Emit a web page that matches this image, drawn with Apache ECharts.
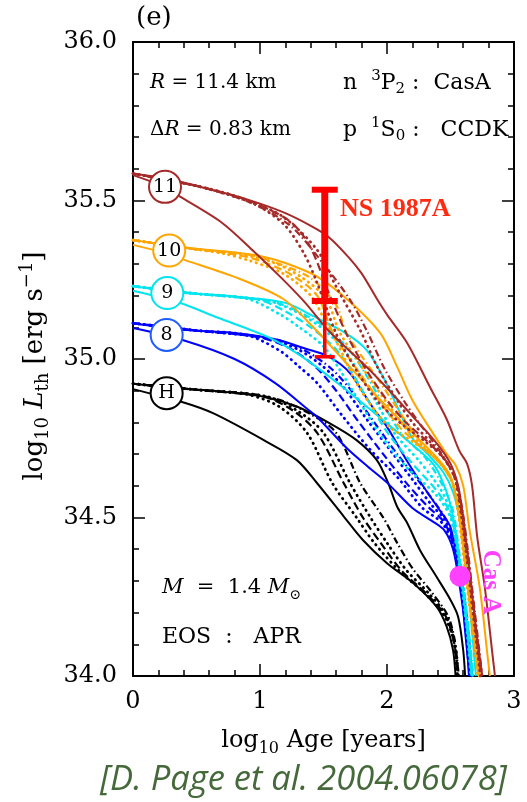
<!DOCTYPE html>
<html>
<head>
<meta charset="utf-8">
<script src="https://cdn.jsdelivr.net/npm/echarts@6/dist/echarts.min.js"></script>
<style>
  html, body { margin: 0; padding: 0; background: #fff; }
  #chart { width: 527px; height: 802px; }
</style>
</head>
<body>
<div id="chart"></div>
<script>
// cooling curves: [log10 age, log10 L]
// H (no superfluid gap)
const hUpper = [[0,34.922],[0.38,34.907],[0.7,34.897],[1.03,34.881],[1.29,34.85],[1.55,34.797],[1.76,34.744],[1.92,34.681],[2.01,34.608],[2.08,34.534],[2.16,34.482],[2.26,34.397],[2.39,34.313],[2.5,34.24],[2.56,34.187],[2.6,34.082],[2.615,34.0]];
const hLower = [[0,34.905],[0.38,34.865],[0.63,34.829],[1.03,34.744],[1.29,34.681],[1.45,34.608],[1.66,34.503],[1.81,34.429],[2.0,34.356],[2.21,34.292],[2.39,34.219],[2.47,34.156],[2.52,34.082],[2.54,34.0]];
const hA = [[0,34.922],[0.5,34.903],[0.9,34.888],[1.15,34.85],[1.37,34.767],[1.57,34.608],[1.76,34.5],[1.9,34.42],[2.1,34.33],[2.3,34.26],[2.45,34.19],[2.52,34.12],[2.54,34.06],[2.55,34.0]];
const hB = [[0,34.922],[0.5,34.903],[1.0,34.885],[1.25,34.84],[1.45,34.767],[1.66,34.608],[1.81,34.5],[1.95,34.42],[2.12,34.33],[2.31,34.26],[2.46,34.19],[2.52,34.12],[2.545,34.06],[2.555,34.0]];
const hC = [[0,34.922],[0.5,34.903],[1.05,34.882],[1.3,34.835],[1.5,34.767],[1.71,34.608],[1.87,34.5],[2.0,34.42],[2.15,34.335],[2.33,34.26],[2.47,34.19],[2.525,34.12],[2.55,34.06],[2.56,34.0]];
const hD = [[0,34.922],[0.5,34.903],[1.1,34.877],[1.38,34.83],[1.6,34.767],[1.79,34.608],[1.97,34.5],[2.08,34.42],[2.2,34.34],[2.35,34.265],[2.48,34.19],[2.53,34.12],[2.55,34.06],[2.565,34.0]];

// 8
const bUpper = [[0,35.113],[0.39,35.092],[0.8,35.082],[1.12,35.062],[1.38,35.03],[1.51,35.013],[1.63,34.985],[1.72,34.95],[1.81,34.895],[1.9,34.84],[2.0,34.786],[2.155,34.68],[2.3,34.59],[2.42,34.52],[2.5,34.47],[2.55,34.37],[2.59,34.25],[2.62,34.12],[2.65,34.0]];
const bLower = [[0,35.098],[0.39,35.06],[0.8,35.0],[1.12,34.924],[1.38,34.84],[1.45,34.817],[1.68,34.72],[1.85,34.66],[2.0,34.61],[2.2,34.53],[2.35,34.49],[2.45,34.46],[2.52,34.4],[2.57,34.29],[2.62,34.14],[2.645,34.0]];
const bA = [[0,35.113],[0.5,35.09],[0.9,35.075],[1.16,35.025],[1.31,34.975],[1.45,34.924],[1.65,34.82],[1.87,34.713],[2.08,34.628],[2.28,34.53],[2.44,34.48],[2.53,34.4],[2.58,34.29],[2.625,34.14],[2.655,34.0]];
const bB = [[0,35.113],[0.5,35.09],[1.0,35.068],[1.25,35.03],[1.45,34.97],[1.6,34.9],[1.78,34.8],[1.97,34.7],[2.15,34.61],[2.32,34.535],[2.45,34.485],[2.535,34.4],[2.585,34.29],[2.63,34.14],[2.66,34.0]];
const bC = [[0,35.113],[0.5,35.09],[1.05,35.066],[1.3,35.03],[1.5,34.975],[1.66,34.91],[1.84,34.81],[2.03,34.71],[2.2,34.62],[2.35,34.54],[2.46,34.49],[2.54,34.4],[2.59,34.29],[2.635,34.14],[2.665,34.0]];
const bD = [[0,35.113],[0.5,35.09],[1.1,35.064],[1.36,35.025],[1.56,34.97],[1.72,34.9],[1.9,34.8],[2.08,34.7],[2.24,34.62],[2.38,34.545],[2.47,34.49],[2.545,34.4],[2.595,34.29],[2.64,34.14],[2.67,34.0]];

// 9
const cUpper = [[0,35.23],[0.36,35.21],[0.8,35.197],[1.2,35.177],[1.42,35.135],[1.68,35.08],[1.84,35.028],[1.97,34.943],[2.08,34.85],[2.2,34.75],[2.32,34.7],[2.44,34.645],[2.52,34.58],[2.57,34.5],[2.61,34.4],[2.64,34.28],[2.67,34.14],[2.7,34.0]];
const cLower = [[0,35.215],[0.36,35.178],[0.67,35.13],[1.06,35.07],[1.31,35.013],[1.63,34.918],[2.02,34.79],[2.34,34.68],[2.42,34.63],[2.5,34.54],[2.55,34.43],[2.59,34.3],[2.63,34.15],[2.665,34.0]];
const cA = [[0,35.23],[0.5,35.206],[0.9,35.19],[1.16,35.14],[1.31,35.1],[1.5,35.04],[1.63,34.965],[1.76,34.88],[1.95,34.76],[2.15,34.66],[2.39,34.57],[2.5,34.5],[2.55,34.4],[2.59,34.28],[2.63,34.14],[2.66,34.0]];
const cB = [[0,35.23],[0.5,35.206],[1.0,35.186],[1.2,35.15],[1.4,35.1],[1.6,35.03],[1.72,34.96],[1.85,34.87],[2.0,34.77],[2.2,34.67],[2.4,34.58],[2.5,34.51],[2.555,34.4],[2.595,34.28],[2.635,34.14],[2.67,34.0]];
const cC = [[0,35.23],[0.5,35.206],[1.05,35.185],[1.28,35.15],[1.48,35.1],[1.66,35.03],[1.79,34.95],[1.92,34.86],[2.07,34.76],[2.25,34.68],[2.42,34.59],[2.51,34.51],[2.56,34.4],[2.6,34.28],[2.64,34.14],[2.675,34.0]];
const cD = [[0,35.23],[0.5,35.206],[1.1,35.18],[1.35,35.14],[1.55,35.09],[1.72,35.02],[1.85,34.94],[1.98,34.85],[2.12,34.76],[2.3,34.69],[2.44,34.6],[2.52,34.52],[2.565,34.4],[2.605,34.28],[2.645,34.14],[2.68,34.0]];

// 10
const oUpper = [[0,35.375],[0.41,35.352],[0.8,35.336],[1.0,35.325],[1.2,35.303],[1.45,35.26],[1.71,35.18],[1.95,35.08],[2.08,34.975],[2.2,34.87],[2.36,34.767],[2.47,34.7],[2.54,34.665],[2.6,34.6],[2.65,34.46],[2.73,34.28],[2.79,34.07],[2.81,34.0]];
const oLower = [[0,35.36],[0.2,35.34],[0.41,35.312],[0.8,35.259],[1.18,35.19],[1.42,35.1],[1.68,34.987],[1.95,34.87],[2.2,34.767],[2.39,34.69],[2.5,34.63],[2.55,34.55],[2.59,34.44],[2.63,34.3],[2.68,34.14],[2.72,34.0]];
const oA = [[0,35.375],[0.5,35.346],[0.72,35.332],[0.92,35.31],[1.18,35.27],[1.4,35.2],[1.5,35.13],[1.62,35.04],[1.76,34.924],[1.9,34.84],[2.02,34.785],[2.2,34.74],[2.4,34.68],[2.5,34.625],[2.55,34.54],[2.585,34.44],[2.625,34.3],[2.675,34.14],[2.715,34.0]];
const oB = [[0,35.375],[0.5,35.346],[0.8,35.33],[1.0,35.31],[1.25,35.265],[1.45,35.2],[1.575,35.082],[1.84,34.924],[2.1,34.785],[2.25,34.73],[2.41,34.675],[2.505,34.62],[2.555,34.54],[2.59,34.44],[2.63,34.3],[2.68,34.14],[2.72,34.0]];
const oC = [[0,35.375],[0.5,35.346],[0.85,35.33],[1.1,35.305],[1.32,35.26],[1.52,35.19],[1.63,35.082],[1.89,34.924],[2.14,34.785],[2.28,34.725],[2.42,34.67],[2.51,34.615],[2.56,34.54],[2.595,34.44],[2.635,34.3],[2.685,34.14],[2.725,34.0]];
const oD = [[0,35.375],[0.5,35.346],[0.9,35.33],[1.15,35.3],[1.4,35.255],[1.6,35.17],[1.68,35.082],[1.95,34.924],[2.18,34.785],[2.3,34.72],[2.43,34.665],[2.515,34.61],[2.565,34.54],[2.6,34.44],[2.64,34.3],[2.69,34.14],[2.73,34.0]];

// 11
const rUpper = [[0,35.585],[0.25,35.57],[0.5,35.546],[0.8,35.515],[1.0,35.49],[1.2,35.46],[1.4,35.42],[1.54,35.385],[1.7,35.32],[1.8,35.27],[1.92,35.19],[2.0,35.14],[2.16,35.05],[2.34,34.91],[2.47,34.81],[2.57,34.71],[2.63,34.67],[2.67,34.6],[2.71,34.44],[2.77,34.28],[2.83,34.07],[2.85,34.0]];
const rLower = [[0,35.58],[0.2,35.55],[0.4,35.505],[0.7,35.43],[0.95,35.34],[1.17,35.255],[1.35,35.18],[1.55,35.085],[1.84,34.975],[2.02,34.9],[2.2,34.82],[2.39,34.735],[2.5,34.67],[2.56,34.6],[2.6,34.5],[2.63,34.4],[2.67,34.26],[2.71,34.12],[2.75,34.0]];
const rA = [[0,35.585],[0.5,35.546],[0.8,35.515],[1.0,35.48],[1.2,35.42],[1.35,35.33],[1.45,35.24],[1.6,35.08],[1.75,34.97],[1.92,34.87],[2.1,34.8],[2.3,34.74],[2.44,34.69],[2.53,34.63],[2.58,34.52],[2.62,34.4],[2.66,34.26],[2.7,34.12],[2.735,34.0]];
const rB = [[0,35.585],[0.5,35.546],[0.8,35.515],[1.0,35.485],[1.25,35.43],[1.4,35.35],[1.55,35.2],[1.68,35.08],[1.83,34.97],[2.0,34.87],[2.15,34.8],[2.33,34.735],[2.45,34.685],[2.535,34.625],[2.585,34.52],[2.625,34.4],[2.665,34.26],[2.705,34.12],[2.74,34.0]];
const rC = [[0,35.585],[0.5,35.546],[0.92,35.496],[1.18,35.449],[1.45,35.344],[1.6,35.228],[1.79,35.09],[1.93,34.97],[2.08,34.87],[2.2,34.8],[2.36,34.73],[2.46,34.68],[2.54,34.62],[2.59,34.52],[2.63,34.4],[2.67,34.26],[2.71,34.12],[2.745,34.0]];
const rD = [[0,35.585],[0.5,35.546],[0.92,35.494],[1.24,35.42],[1.5,35.3],[1.71,35.186],[1.84,35.09],[1.98,34.97],[2.13,34.87],[2.25,34.8],[2.39,34.725],[2.47,34.675],[2.545,34.615],[2.595,34.52],[2.635,34.4],[2.675,34.26],[2.715,34.12],[2.75,34.0]];

// curve labels (circles)
const tagNames = ['H', '8', '9', '10', '11'];
const tagX = [0.265, 0.265, 0.27, 0.285, 0.252];
const tagY = [34.892, 35.076, 35.208, 35.342, 35.543];

// NS 1987A error bar: [x, low, high]
const nsBars = [[1.51, 35.183, 35.534], [1.51, 35.007, 35.183]];
// Cas A
const casA = [[2.575, 34.315]];

const xTicks = [0, 1, 2, 3];
const yTicks = [34.0, 34.5, 35.0, 35.5, 36.0];

const families = [
  { color: '#000000', ring: '#000000', upper: hUpper, lower: hLower, mids: [hA, hB, hC, hD] },
  { color: '#0000ff', ring: '#1f5cff', upper: bUpper, lower: bLower, mids: [bA, bB, bC, bD] },
  { color: '#00e5ee', ring: '#00e5ee', upper: cUpper, lower: cLower, mids: [cA, cB, cC, cD] },
  { color: '#ffa500', ring: '#ffa500', upper: oUpper, lower: oLower, mids: [oA, oB, oC, oD] },
  { color: '#a52a2a', ring: '#a52a2a', upper: rUpper, lower: rLower, mids: [rA, rB, rC, rD] }
];
const midStyles = [
  { type: [0.5, 5.2], width: 2.8, cap: 'round' },
  { type: [8, 4], width: 2.2, cap: 'butt' },
  { type: [0.5, 5.2], width: 2.8, cap: 'round' },
  { type: [7, 3, 1.5, 3], width: 2.2, cap: 'butt' }
];

const serif = 'DejaVu Serif';
const series = [];
families.forEach(function (f) {
  f.mids.forEach(function (d, i) {
    series.push({
      type: 'line', data: d, symbol: 'none', smooth: 0.3, silent: true,
      lineStyle: { color: f.color, width: midStyles[i].width, type: midStyles[i].type, cap: midStyles[i].cap }
    });
  });
  [f.upper, f.lower].forEach(function (d) {
    series.push({
      type: 'line', data: d, symbol: 'none', smooth: 0.3, silent: true,
      lineStyle: { color: f.color, width: 2, type: 'solid' }
    });
  });
});

series.push({
  type: 'custom',
  data: nsBars,
  z: 10,
  renderItem: function (params, api) {
    const x = api.value(0);
    const pLo = api.coord([x, api.value(1)]);
    const pHi = api.coord([x, api.value(2)]);
    const thick = params.dataIndex === 0;
    const w = thick ? 7 : 3.5;
    const cw = thick ? 6 : 3.5;
    const half = thick ? 13 : 10;
    const red = '#ff0000';
    const kids = [
      { type: 'line', shape: { x1: pLo[0], y1: pLo[1], x2: pHi[0], y2: pHi[1] }, style: { stroke: red, lineWidth: w } },
      { type: 'line', shape: { x1: pLo[0] - half, y1: pLo[1], x2: pLo[0] + half, y2: pLo[1] }, style: { stroke: red, lineWidth: cw } }
    ];
    if (thick) {
      kids.push({ type: 'line', shape: { x1: pHi[0] - half, y1: pHi[1], x2: pHi[0] + half, y2: pHi[1] }, style: { stroke: red, lineWidth: cw } });
    }
    return { type: 'group', children: kids };
  }
});

series.push({
  type: 'scatter', data: casA, symbolSize: 21, z: 11, silent: true,
  itemStyle: { color: '#ff40ff', opacity: 1 }
});

series.push({
  type: 'scatter', z: 12, silent: true, symbolSize: 32,
  data: tagNames.map(function (n, i) {
    return { value: [tagX[i], tagY[i]], name: n, itemStyle: { borderColor: families[i].ring } };
  }),
  itemStyle: { color: '#ffffff', borderWidth: 2, opacity: 1 },
  label: {
    show: true, position: 'inside', formatter: '{b}',
    color: '#000', fontFamily: serif, fontSize: 19
  }
});

const tickFont = { fontFamily: serif, fontSize: 24, color: '#000' };
const axisLineStyle = { onZero: false, lineStyle: { color: '#000', width: 2 } };
const majorTick = { inside: true, length: 12, lineStyle: { color: '#000', width: 1.5 } };
const minorTickStyle = { show: true, splitNumber: 5, length: 6, lineStyle: { color: '#000', width: 1.5 } };

const richX = {
  m: { fontFamily: serif, fontSize: 24, lineHeight: 32, color: '#000' },
  sub: { fontFamily: serif, fontSize: 16, lineHeight: 16, verticalAlign: 'bottom', color: '#000' }
};
const richY = {
  m: { fontFamily: serif, fontSize: 26, lineHeight: 34, color: '#000' },
  it: { fontFamily: serif, fontSize: 26, lineHeight: 34, fontStyle: 'italic', color: '#000' },
  sub: { fontFamily: serif, fontSize: 18, lineHeight: 17, verticalAlign: 'bottom', color: '#000' },
  sup: { fontFamily: serif, fontSize: 18, lineHeight: 21, verticalAlign: 'top', color: '#000' }
};

function richNote(size) {
  const s = Math.round(size * 0.68);
  return {
    it: { fontFamily: serif, fontSize: size, lineHeight: 28, fontStyle: 'italic', color: '#000' },
    sub: { fontFamily: serif, fontSize: s, lineHeight: 16, verticalAlign: 'bottom', color: '#000' },
    sup: { fontFamily: serif, fontSize: s, lineHeight: 18, verticalAlign: 'top', color: '#000' }
  };
}

function note(text, x, y, size) {
  return {
    type: 'text', x: x, y: y, z: 20,
    style: {
      text: text, fontFamily: serif, fontSize: size, lineHeight: 28, fill: '#000',
      align: 'left', verticalAlign: 'middle', rich: richNote(size)
    }
  };
}

const option = {
  animation: false,
  backgroundColor: '#ffffff',
  grid: { left: 133, right: 13, top: 42, bottom: 126 },
  xAxis: [
    {
      type: 'value', min: 0, max: 3, interval: 1, position: 'bottom',
      axisLine: axisLineStyle, axisTick: majorTick, minorTick: minorTickStyle,
      splitLine: { show: false },
      axisLabel: Object.assign({ margin: 14, formatter: function (v) { return xTicks.indexOf(v) >= 0 ? String(v) : ''; } }, tickFont),
      name: '{m|log}{sub|10} {m|Age [years]}',
      nameLocation: 'middle', nameGap: 49,
      nameTextStyle: { fontFamily: serif, fontSize: 24, lineHeight: 32, color: '#000', rich: richX }
    },
    {
      type: 'value', min: 0, max: 3, interval: 1, position: 'top',
      axisLine: axisLineStyle, axisTick: majorTick, minorTick: minorTickStyle,
      splitLine: { show: false }, axisLabel: { show: false }
    }
  ],
  yAxis: [
    {
      type: 'value', min: 34, max: 36, interval: 0.5, position: 'left',
      axisLine: axisLineStyle, axisTick: majorTick, minorTick: minorTickStyle,
      splitLine: { show: false },
      axisLabel: Object.assign({ margin: 16, formatter: function (v) { return v.toFixed(1); } }, tickFont),
      name: '{m|log}{sub|10} {it|L}{sub|th} {m|[erg s}{sup|−1}{m|]}',
      nameLocation: 'middle', nameRotate: 90, nameGap: 76,
      nameTextStyle: { fontFamily: serif, fontSize: 26, lineHeight: 34, color: '#000', rich: richY, padding: [0, 14, 0, 0] }
    },
    {
      type: 'value', min: 34, max: 36, interval: 0.5, position: 'right',
      axisLine: axisLineStyle, axisTick: majorTick, minorTick: minorTickStyle,
      splitLine: { show: false }, axisLabel: { show: false }
    }
  ],
  graphic: [
    { type: 'text', x: 136, y: 18, style: { text: '(e)', fontFamily: serif, fontSize: 26, fill: '#000', align: 'left', verticalAlign: 'middle' } },
    note('{it|R} = 11.4 km', 150, 83, 20),
    note('Δ{it|R} = 0.83 km', 150, 130, 20),
    note('n  {sup|3}P{sub|2} :  CasA', 343, 83, 22),
    note('p  {sup|1}S{sub|0} :   CCDK', 343, 130, 22),
    note('{it|M}  =  1.4 {it|M}{sub|⊙}', 162, 588, 21),
    note('EOS  :   APR', 162, 637, 22),
    {
      type: 'text', x: 340, y: 209, z: 20,
      style: { text: 'NS 1987A', fontFamily: 'Liberation Serif', fontWeight: 'bold', fontSize: 26, fill: '#ff2a10', align: 'left', verticalAlign: 'middle' }
    },
    {
      type: 'text', x: 490, y: 582, rotation: -Math.PI / 2, z: 20,
      style: { text: 'Cas A', fontFamily: 'Liberation Serif', fontWeight: 'bold', fontSize: 25, fill: '#ff40ff', align: 'center', verticalAlign: 'middle' }
    },
    {
      type: 'text', x: 100, y: 780,
      style: { text: '[D. Page et al. 2004.06078]', fontFamily: 'Open Sans', fontStyle: 'italic', fontSize: 34.5, fill: '#45693a', align: 'left', verticalAlign: 'middle' }
    }
  ],
  series: series
};

const chart = echarts.init(document.getElementById('chart'), null, { renderer: 'canvas' });
chart.setOption(option);
</script>
</body>
</html>
